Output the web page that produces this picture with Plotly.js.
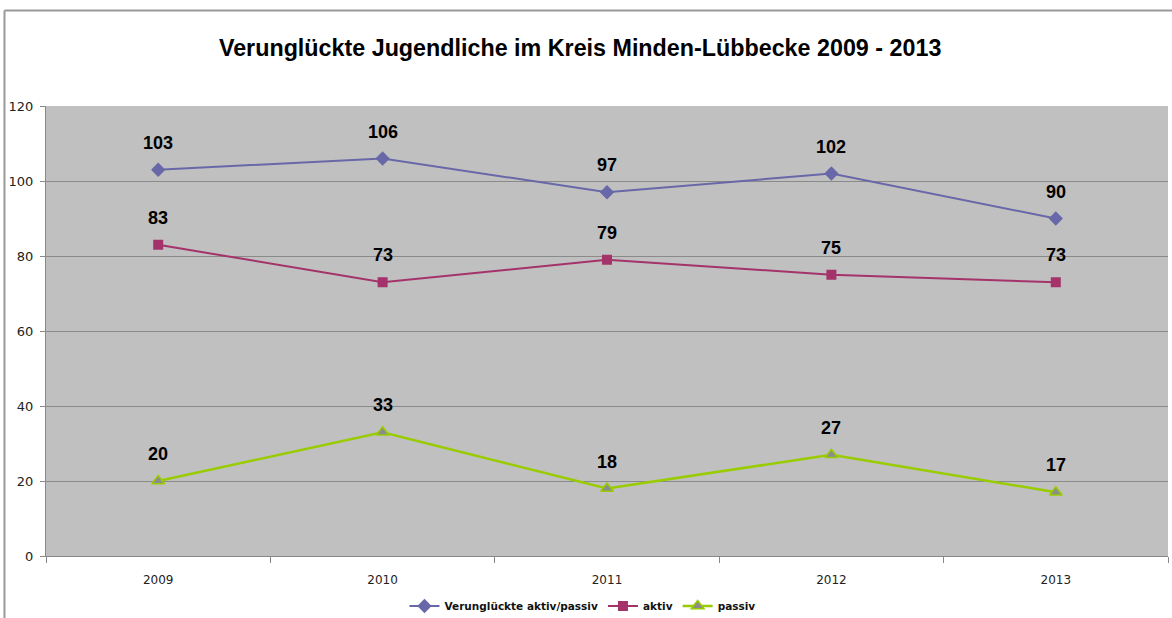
<!DOCTYPE html>
<html>
<head>
<meta charset="utf-8">
<script src="https://cdn.plot.ly/plotly-3.0.1.min.js"></script>
<style>
html,body{margin:0;padding:0;background:#fff;}
#chart{width:1172px;height:618px;}
</style>
</head>
<body>
<div id="chart"></div>
<script>
const years = ["2009", "2010", "2011", "2012", "2013"];
const gesamt = [103, 106, 97, 102, 90];
const aktiv = [83, 73, 79, 75, 73];
const passiv = [20, 33, 18, 27, 17];
const seriesNames = ["Verunglückte aktiv/passiv", "aktiv", "passiv"];
const titleText = "Verunglückte Jugendliche im Kreis Minden-Lübbecke 2009 - 2013";

const traces = [
  {x: years, y: gesamt, name: seriesNames[0], type: "scatter", mode: "lines+markers",
   line: {color: "#6868A8", width: 2}, marker: {symbol: "diamond", size: 11, color: "#6868A8"}},
  {x: years, y: aktiv, name: seriesNames[1], type: "scatter", mode: "lines+markers",
   line: {color: "#A3336A", width: 2}, marker: {symbol: "square", size: 10, color: "#A3336A"}},
  {x: years, y: passiv, name: seriesNames[2], type: "scatter", mode: "lines+markers",
   line: {color: "#99CC00", width: 2.5}, marker: {symbol: "triangle-up", size: 11, color: "#8C8C8C", line: {color: "#99CC00", width: 1.5}}}
];

const annotations = [];
[gesamt, aktiv, passiv].forEach(arr => {
  arr.forEach((v, i) => {
    annotations.push({x: i, y: v, xref: "x", yref: "y", text: "<b>" + v + "</b>", showarrow: false, yshift: 27,
      font: {family: "Liberation Sans, Arial, sans-serif", size: 18, color: "#000"}});
  });
});

const layout = {
  width: 1172, height: 618,
  margin: {l: 46, r: 4, t: 106, b: 62},
  paper_bgcolor: "#ffffff",
  plot_bgcolor: "#C0C0C0",
  title: {text: "<b>" + titleText + "</b>", x: 0.495, xref: "container", xanchor: "center",
          y: 0.922, yref: "container", yanchor: "middle",
          font: {family: "Liberation Sans, Arial, sans-serif", size: 23.3, color: "#000"}},
  xaxis: {type: "category", range: [-0.5, 4.5], showgrid: false, tickson: "boundaries", automargin: false,
          ticks: "outside", ticklen: 6, tickcolor: "#888", showline: true, linecolor: "#888", linewidth: 1,
          ticklabelstandoff: 13,
          tickfont: {family: "DejaVu Sans, Verdana, sans-serif", size: 12, color: "#222"}, zeroline: false, fixedrange: true},
  yaxis: {range: [0, 120], dtick: 20, showgrid: true, gridcolor: "#8A8A8A", gridwidth: 1, automargin: false,
          ticks: "outside", ticklen: 5, tickcolor: "#888", showline: true, linecolor: "#888", linewidth: 1,
          ticklabelstandoff: 4, zeroline: false,
          tickfont: {family: "DejaVu Sans, Verdana, sans-serif", size: 13, color: "#222"}, fixedrange: true},
  showlegend: true,
  legend: {orientation: "h", x: 0.497, xref: "container", xanchor: "center", y: 0.0194, yref: "container", yanchor: "middle",
           font: {family: "DejaVu Sans, Verdana, sans-serif", size: 10.5, color: "#111", weight: "bold"},
           tracegroupgap: 0, bgcolor: "rgba(0,0,0,0)"},
  annotations: annotations,
  shapes: [
    {type: "line", xref: "paper", yref: "paper", x0: -0.0370, x1: 1.01, y0: 1.2122, y1: 1.2122, line: {color: "#999", width: 2}},
    {type: "line", xref: "paper", yref: "paper", x0: -0.0370, x1: -0.0370, y0: 1.2122, y1: -0.2, line: {color: "#999", width: 2}}
  ]
};

Plotly.newPlot("chart", traces, layout, {displayModeBar: false, staticPlot: true});
</script>
</body>
</html>
